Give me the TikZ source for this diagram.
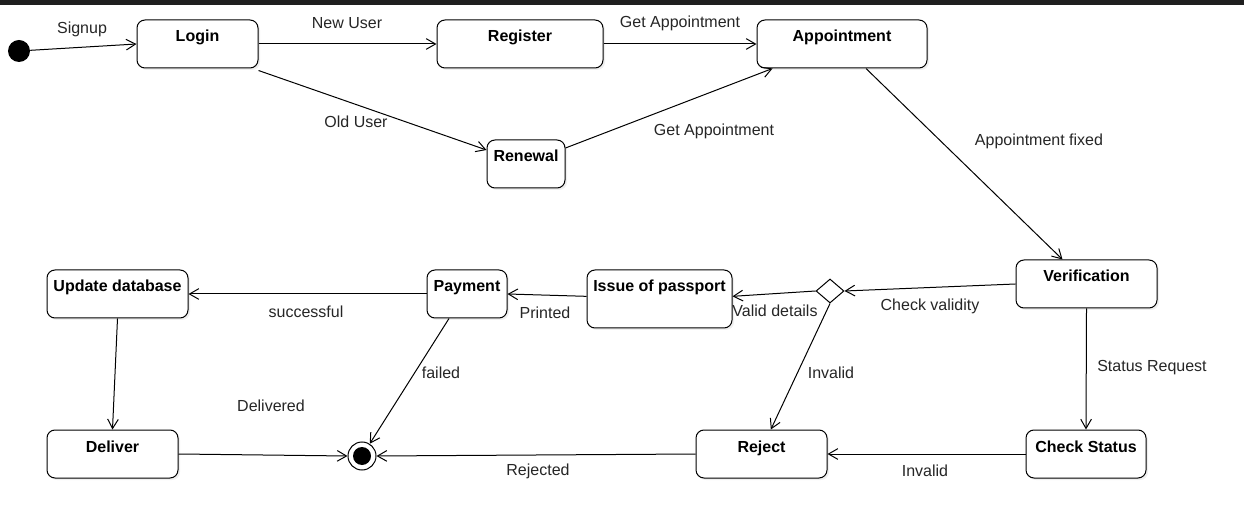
\documentclass[tikz,border=0pt]{standalone}
\usepackage{fontspec}
\setmainfont{Liberation Sans}
\usetikzlibrary{shapes.geometric,arrows.meta,shadows}
\begin{document}
\begin{tikzpicture}[x=0.75pt,y=-0.75pt,
  font=\fontsize{12}{14}\selectfont,
  statebox/.style={draw,line width=0.75pt,rounded corners=6pt,fill=white,
    inner xsep=3pt,inner ysep=4pt,text height=12.5pt,text depth=15.5pt,
    font=\fontsize{12}{14}\selectfont\bfseries,
    drop shadow={shadow xshift=1.5pt,shadow yshift=-1.5pt,opacity=0.12}},
  arr/.style={line width=0.75pt,-{Straight Barb[length=7pt,width=8pt]}},
  lbl/.style={inner sep=0pt,text=black!85}]
\useasboundingbox (0,0) rectangle (1244,523);
\fill[white] (0,0) rectangle (1244,523);
\fill[black!88] (0,0) rectangle (1244,5);

% states
\node[circle,fill=black,minimum size=16.5pt,inner sep=0pt] (init) at (19,51) {};
\node[statebox,minimum width=90.75pt] (login) at (197.5,44) {Login};
\node[statebox,minimum width=124.5pt] (register) at (520,44) {Register};
\node[statebox,minimum width=127.5pt] (appt) at (842,44) {Appointment};
\node[statebox,minimum width=58.5pt] (renewal) at (526,164) {Renewal};
\node[statebox,minimum width=105.75pt] (verif) at (1086.5,284) {Verification};
\node[statebox,minimum width=90pt] (check) at (1086,454) {Check Status};
\node[statebox,minimum width=98.25pt] (reject) at (761.5,454) {Reject};
\node[circle,draw,line width=0.75pt,minimum size=21pt,inner sep=0pt,fill=white,
  path picture={\fill[black] (path picture bounding box.center) circle (6.75pt);}] (final) at (362,456) {};
\node[statebox,minimum width=98.25pt] (deliver) at (112.5,454) {Deliver};
\node[statebox,minimum width=105.75pt] (update) at (117.5,294) {Update database};
\node[statebox,minimum width=60pt] (payment) at (467,294) {Payment};
\node[statebox,minimum width=108.75pt,text depth=23pt] (issue) at (659.5,299) {Issue of passport};
\node[diamond,draw,line width=0.75pt,fill=white,minimum width=21pt,minimum height=18pt,inner sep=0pt] (dec) at (830,291) {};

% transitions
\draw[arr] (init) -- (login.west);
\draw[arr] (login.east) -- (register.west);
\draw[arr] (register.east) -- (appt.west);
\draw[arr] ([yshift=-1.5pt]login.south east) -- ([yshift=10.5pt]renewal.west);
\draw[arr] ([yshift=12pt]renewal.east) -- ([xshift=12pt]appt.south west);
\draw[arr] ([xshift=18pt]appt.south) -- ([xshift=-18pt]verif.north);
\draw[arr] (verif.west) -- (dec.east);
\draw[arr] (dec.west) -- ([yshift=2pt]issue.east);
\draw[arr] (dec.south) -- ([xshift=7pt]reject.north);
\draw[arr] (verif.south) -- (check.north);
\draw[arr] (check.west) -- (reject.east);
\draw[arr] (reject.west) -- (final.east);
\draw[arr] ([yshift=2pt]issue.west) -- (payment.east);
\draw[arr] (payment.west) -- (update.east);
\draw[arr] ([xshift=-13.5pt]payment.south) -- (final);
\draw[arr] (update.south) -- (deliver.north);
\draw[arr] (deliver.east) -- (final.west);

% labels
\node[lbl] (l1) at (82,29) {Signup};
\node[lbl] (l2) at (347,23) {New User};
\node[lbl] (l3) at (680,23) {Get Appointment};
\node[lbl] (l4) at (356,122) {Old User};
\node[lbl] (l5) at (714,131) {Get Appointment};
\node[lbl] (l6) at (1039,141) {Appointment fixed};
\node[lbl] (l7) at (930,306) {Check validity};
\node[lbl] (l8) at (775,311) {Valid details};
\node[lbl] (l9) at (831,373) {Invalid};
\node[lbl] (l10) at (1152,368) {Status Request};
\node[lbl] (l11) at (925,471) {Invalid};
\node[lbl] (l12) at (538,471) {Rejected};
\node[lbl] (l13) at (545,313) {Printed};
\node[lbl] (l14) at (306,312) {successful};
\node[lbl] (l15) at (441,373) {failed};
\node[lbl] (l16) at (271,406) {Delivered};
\end{tikzpicture}
\end{document}
